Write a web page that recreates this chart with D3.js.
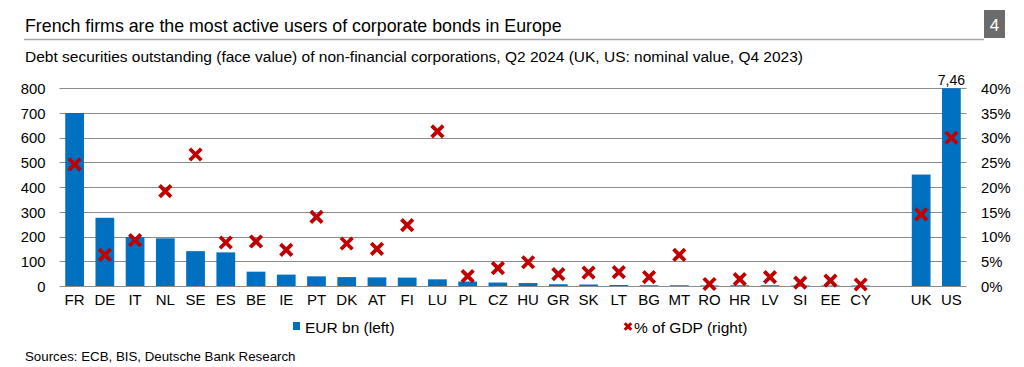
<!DOCTYPE html>
<html><head><meta charset="utf-8">
<script src="https://cdn.jsdelivr.net/npm/d3@7"></script>
<style>
body{margin:0;background:#fff;}
svg{display:block;font-family:"Liberation Sans",Arial,sans-serif;}
</style></head>
<body><svg id="c" width="1024" height="367"></svg>
<script>
const categories = ["FR","DE","IT","NL","SE","ES","BE","IE","PT","DK","AT","FI","LU","PL","CZ","HU","GR","SK","LT","BG","MT","RO","HR","LV","SI","EE","CY","","UK","US"];
const eurBn = [700,276,198,193,141,136,58,46,39,36,35,34,27,18,14,12,7,6,4,3,3,2,3,3,2,2,2,null,451,7460];
const pctGDP = [24.6,6.3,9.3,19.2,26.6,8.8,9.0,7.3,14.0,8.6,7.5,12.3,31.3,2.0,3.6,4.8,2.4,2.7,2.8,1.8,6.3,0.4,1.4,1.8,0.7,1.1,0.3,null,14.5,30.0];
const leftTicks = [0,100,200,300,400,500,600,700,800];
const rightTicks = [0,5,10,15,20,25,30,35,40];
const overflowLabel = "7,46";
const title = "French firms are the most active users of corporate bonds in Europe";
const subtitle = "Debt securities outstanding (face value) of non-financial corporations, Q2 2024 (UK, US: nominal value, Q4 2023)";
const legendLabels = ["EUR bn (left)","% of GDP (right)"];
const source = "Sources: ECB, BIS, Deutsche Bank Research";

const svg = d3.select("#c");
const blue = "#0070C0", red = "#C00000";
const L = 59.5, R = 966.5, T = 88.3, B = 286;
const FF = "Liberation Sans, Arial, sans-serif";

const x = d3.scaleBand().domain(d3.range(categories.length)).range([L,R]).paddingInner(0.38).paddingOuter(0.19);
const yL = d3.scaleLinear().domain([0,800]).range([B,T]);
const yR = d3.scaleLinear().domain([0,40]).range([B,T]);

// title
svg.append("text").attr("x",25).attr("y",32).attr("font-size",17.8).attr("fill","#000").text(title);
svg.append("line").attr("x1",24).attr("x2",984).attr("y1",39.5).attr("y2",39.5).attr("stroke","#a6a6a6").attr("stroke-width",1.5);
svg.append("rect").attr("x",984).attr("y",10).attr("width",21).attr("height",28).attr("fill","#6b6b6b");
svg.append("text").attr("x",994.5).attr("y",31).attr("text-anchor","middle").attr("font-size",17).attr("fill","#fff").text("4");
svg.append("text").attr("x",25).attr("y",62).attr("font-size",15.5).attr("fill","#000").text(subtitle);

// gridlines
svg.append("g").selectAll("line").data(leftTicks).join("line")
  .attr("x1",L).attr("x2",R).attr("y1",d=>Math.round(yL(d))+0.5).attr("y2",d=>Math.round(yL(d))+0.5)
  .attr("stroke","#8c8c8c").attr("stroke-width",1);

// left axis
const gL = svg.append("g").attr("transform",`translate(${L-14},0)`)
  .call(d3.axisLeft(yL).tickValues(leftTicks).tickSize(0).tickPadding(0));
gL.select(".domain").remove();
gL.selectAll("text").attr("font-size",14.8).attr("fill","#000").attr("font-family",FF).attr("dy","0.35em");

// right axis
const gR = svg.append("g").attr("transform",`translate(${R+14.5},0)`)
  .call(d3.axisRight(yR).tickValues(rightTicks).tickSize(0).tickPadding(0).tickFormat(d=>d+"%"));
gR.select(".domain").remove();
gR.selectAll("text").attr("font-size",14.8).attr("fill","#000").attr("font-family",FF).attr("dy","0.35em");

// bars
const barData = categories.map((c,i)=>({i,c,v:eurBn[i],p:pctGDP[i]}));
svg.append("g").selectAll("rect").data(barData.filter(d=>d.v!=null)).join("rect")
  .attr("x",d=>x(d.i)).attr("width",x.bandwidth())
  .attr("y",d=>yL(Math.min(d.v,800))).attr("height",d=>B-yL(Math.min(d.v,800)))
  .attr("fill",blue);

// overflow label
barData.filter(d=>d.v!=null && d.v>800).forEach(d=>{
  svg.append("text").attr("x",x(d.i)+x.bandwidth()/2).attr("y",T-3).attr("text-anchor","middle")
    .attr("font-size",14).attr("fill","#000").text(overflowLabel);
});

// markers
const xSym = d3.symbol().type(d3.symbolX).size(88);
svg.append("g").selectAll("path").data(barData.filter(d=>d.p!=null)).join("path")
  .attr("d",xSym).attr("transform",d=>`translate(${x(d.i)+x.bandwidth()/2},${yR(d.p)})`)
  .attr("stroke",red).attr("stroke-width",3.8).attr("fill","none");

// x labels
const gX = svg.append("g").attr("transform",`translate(0,${B+8})`)
  .call(d3.axisBottom(x).tickSize(0).tickPadding(0).tickFormat(i=>categories[i]));
gX.select(".domain").remove();
gX.selectAll("text").attr("font-size",15).attr("fill","#000").attr("font-family",FF);

// legend
svg.append("rect").attr("x",293).attr("y",322).attr("width",7).attr("height",8).attr("fill",blue);
svg.append("text").attr("x",305).attr("y",333).attr("font-size",15.5).attr("fill","#000").text(legendLabels[0]);
svg.append("path").attr("d",d3.symbol().type(d3.symbolX).size(30)).attr("transform","translate(628,326.5)")
  .attr("stroke",red).attr("stroke-width",3).attr("fill","none");
svg.append("text").attr("x",634).attr("y",333).attr("font-size",15.5).attr("fill","#000").text(legendLabels[1]);

// source
svg.append("text").attr("x",25).attr("y",361).attr("font-size",13.3).attr("fill","#000").text(source);
</script></body></html>
